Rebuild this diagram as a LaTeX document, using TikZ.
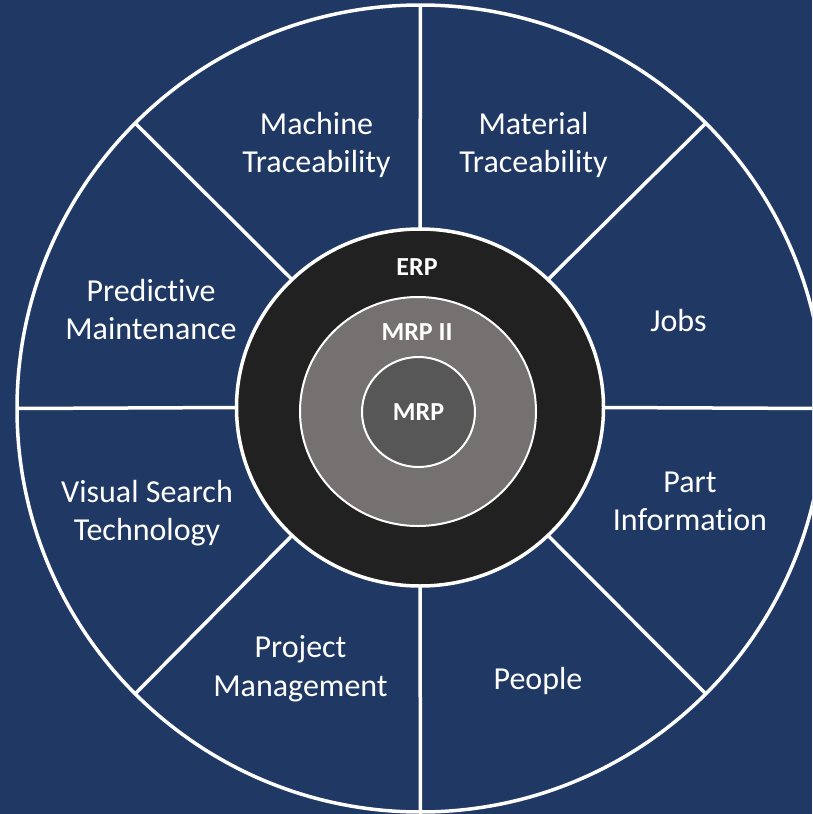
\documentclass[tikz,border=0pt]{standalone}
\usepackage{fontspec}
\setmainfont{Carlito}[Ligatures={NoCommon}]
\usetikzlibrary{shapes.geometric,backgrounds}
\definecolor{navy}{RGB}{32,56,100}
\definecolor{erpblack}{RGB}{33,33,33}
\definecolor{mrpiigray}{RGB}{118,113,113}
\definecolor{mrpgray}{RGB}{87,87,87}
\begin{document}
\begin{tikzpicture}[x=1pt,y=-1pt,
  ring/.style={ellipse, inner sep=0pt, outer sep=0pt, draw=white},
  spoke/.style={draw=white, line width=3.5pt},
  seglabel/.style={text=white, align=center, inner sep=0pt,
    font=\fontsize{32}{38.5}\selectfont},
  corelabel/.style={text=white, inner sep=0pt,
    font=\fontsize{26}{31}\selectfont\bfseries}]
\useasboundingbox (0,0) rectangle (812,814);

% nested core rings
\node[ring, fill=erpblack, line width=3.5pt, minimum width=367pt, minimum height=357pt] (erp) at (420,407.5) {};
\node[ring, fill=mrpiigray, line width=2pt, minimum width=236pt, minimum height=229pt] (mrpii) at (418,411.5) {};
\node[ring, fill=mrpgray, line width=2pt, minimum width=113pt, minimum height=110pt,
      text=white, font=\fontsize{26}{31}\selectfont\bfseries] (mrp) at (418.5,412) {MRP};
\node[corelabel] (erplabel) at (417,267) {ERP};
\node[corelabel] (mrpiilabel) at (417,332) {MRP II};

% outer wheel and its eight spokes, behind the core
\begin{scope}[on background layer]
  \clip (0,0) rectangle (812,814);
  \fill[navy] (0,0) rectangle (812,814);
  \node[ring, circle, fill=navy, line width=3.5pt, minimum size=807pt] (outer) at (420.5,408.5) {};
  \foreach \a in {0,45,...,315}
    \draw[spoke] (erp.\a) -- (outer.\a);
\end{scope}

% segment labels
\node[seglabel] (machine) at (316.5,145) {Machine\\Traceability};
\node[seglabel] (material) at (533.5,145) {Material\\Traceability};
\node[seglabel] (predictive) at (151,309.5) {Predictive\\Maintenance};
\node[seglabel] (jobs) at (678.5,321) {Jobs};
\node[seglabel] (visual) at (147,513) {Visual Search\\Technology};
\node[seglabel] (part) at (690,501.5) {Part\\Information};
\node[seglabel] (project) at (300.5,668.5) {Project\\Management};
\node[seglabel] (people) at (538,680.5) {People};
\end{tikzpicture}
\end{document}
